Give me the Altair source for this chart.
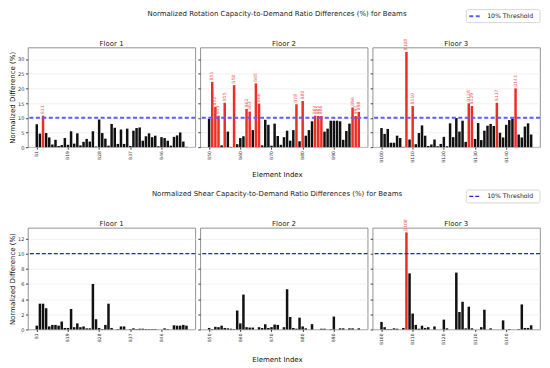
import altair as alt
import pandas as pd

TOP_TITLE = "Normalized Rotation Capacity-to-Demand Ratio Differences (%) for Beams"
BOT_TITLE = "Normalized Shear Capacity-to-Demand Ratio Differences (%) for Beams"
FLOOR_TITLES = ["Floor 1", "Floor 2", "Floor 3"]
Y_TITLE = "Normalized Difference (%)"
X_TITLE = "Element Index"
LEGEND_LABEL = "10% Threshold"
THRESHOLD = 10

floor1_ids = ["B1", "B10", "B11", "B12", "B13", "B14", "B15", "B16", "B17", "B18",
              "B19", "B2", "B20", "B21", "B22", "B23", "B24", "B25", "B26", "B27",
              "B28", "B29", "B3", "B30", "B31", "B32", "B33", "B34", "B35", "B36",
              "B37", "B38", "B39", "B4", "B40", "B41", "B42", "B43", "B44", "B45",
              "B46", "B47", "B48", "B49", "B5", "B6", "B7", "B8", "B9"]
floor2_ids = ["B50", "B51", "B52", "B53", "B54", "B55", "B56", "B57", "B58", "B59",
              "B60", "B61", "B62", "B63", "B64", "B65", "B66", "B67", "B68", "B69",
              "B70", "B71", "B72", "B73", "B74", "B75", "B76", "B77", "B78", "B79",
              "B80", "B81", "B82", "B83", "B84", "B85", "B86", "B87", "B88", "B89",
              "B90", "B91", "B92", "B93", "B94", "B95", "B96", "B97", "B98"]
floor3_ids = ["B100", "B101", "B102", "B103", "B104", "B105", "B106", "B107", "B108", "B109",
              "B110", "B111", "B112", "B113", "B114", "B115", "B116", "B117", "B118", "B119",
              "B120", "B121", "B122", "B123", "B124", "B125", "B126", "B127", "B128", "B129",
              "B130", "B131", "B132", "B133", "B134", "B135", "B136", "B137", "B138", "B139",
              "B140", "B141", "B142", "B143", "B144", "B145", "B146", "B147", "B99"]

rot_f1 = [7.8, 4.6, 10.7, 4.8, 3.3, 0.9, 2.5, 0.4, 0.7, 3.1,
          0.8, 5.4, 1.2, 4.7, 0.6, 1.8, 2.8, 1.9, 5.4, 0.2,
          9.4, 4.8, 2.9, 0.5, 7.9, 6.6, 1.1, 6.0, 1.1, 6.3,
          0.4, 5.6, 6.5, 6.7, 2.2, 3.7, 4.7, 3.4, 3.9, 0.3,
          3.4, 3.1, 2.2, 0.5, 3.5, 4.0, 5.0, 1.9, 0.1]
rot_f2 = [9.6, 22.2, 13.7, 10.7, 0.6, 15.1, 5.3, 0.1, 21.1, 1.0,
          3.1, 3.7, 13.0, 12.1, 5.8, 21.7, 14.8, 0.6, 9.3, 7.6,
          0.5, 8.0, 3.8, 0.8, 3.4, 5.6, 2.2, 5.8, 14.6, 2.0,
          15.7, 3.9, 5.8, 8.8, 10.7, 10.6, 10.6, 5.3, 6.3, 9.0,
          9.0, 9.0, 8.8, 2.5, 5.5, 8.0, 13.5, 10.6, 12.0]
rot_f3 = [6.5, 4.5, 6.2, 1.5, 1.5, 3.9, 3.1, 0.1, 32.4, 2.6,
          14.0, 1.0, 4.8, 7.4, 3.9, 0.4, 0.9, 2.6, 0.3, 1.1,
          3.5, 0.3, 8.1, 3.4, 9.9, 5.3, 9.0, 1.8, 14.9, 14.0,
          2.8, 8.2, 2.4, 5.6, 7.3, 7.9, 7.2, 15.1, 4.9, 3.3,
          7.6, 9.2, 9.7, 20.0, 4.3, 3.3, 7.0, 8.1, 4.3]

shear_f1 = [0.5, 3.4, 3.4, 2.8, 0.4, 0.6, 0.6, 0.5, 1.05, 0.2,
            0.2, 2.7, 0.3, 0.8, 0.3, 0.4, 0.15, 0.15, 6.0, 1.35,
            0.2, 0.05, 0.6, 3.4, 0.2, 0.0, 0.05, 0.4, 0.4, 0.0,
            0.05, 0.15, 0.05, 0.1, 0.1, 0.05, 0.05, 0.05, 0.05, 0.0,
            0.0, 0.15, 0.05, 0.0, 0.55, 0.5, 0.5, 0.6, 0.5]
shear_f2 = [0.2, 0.05, 0.35, 0.3, 0.5, 0.2, 0.15, 0.1, 0.05, 2.5,
            0.8, 4.6, 0.3, 0.25, 0.25, 0.0, 0.3, 0.2, 0.7, 0.2,
            0.3, 0.65, 0.6, 0.0, 0.3, 5.3, 1.65, 0.2, 0.1, 1.55,
            0.4, 0.15, 0.0, 0.7, 0.0, 0.0, 0.1, 0.1, 0.0, 0.05,
            1.7, 0.0, 0.15, 0.15, 0.0, 0.15, 0.15, 0.0, 0.15]
shear_f3 = [1.0, 0.3, 0.05, 0.05, 0.15, 0.1, 0.0, 0.2, 12.8, 7.4,
            2.1, 0.6, 0.1, 0.5, 0.2, 0.3, 0.0, 0.4, 0.0, 0.0,
            1.3, 0.15, 0.0, 0.0, 7.5, 2.3, 3.65, 0.15, 3.0, 0.15,
            0.0, 0.0, 0.3, 2.6, 0.0, 0.15, 0.0, 0.0, 0.0, 1.2,
            0.0, 0.05, 0.0, 0.0, 0.05, 3.3, 0.2, 0.2, 0.55]

TICK_IDX = [0, 10, 20, 30, 40]
TOP_YTICKS = [0, 5, 10, 15, 20, 25, 30]
BOT_YTICKS = [0, 2, 4, 6, 8, 10, 12]
TOP_YMAX = 33.9
BOT_YMAX = 13.4

W = 168
H_TOP = 100
H_BOT = 102
FONT = "DejaVu Sans"
RED = "#ee2d24"
LABEL_RED = "#ef5555"

TOP_LINE = dict(color="#5c5cff", strokeWidth=2, strokeDash=[4, 2.5])
BOT_LINE = dict(color="#1f2bd6", strokeWidth=1.2, strokeDash=[4, 2])


def panel(ids, vals, ymax, yticks, col, row_title, line, xtitle_y, H):
    df = pd.DataFrame({"idx": list(range(len(ids))), "elem": ids, "val": vals})
    n = len(ids)
    xscale = alt.Scale(domain=[-0.4 - 0.05 * (n - 0.2), n - 0.6 + 0.05 * (n - 0.2)],
                       nice=False, zero=False)
    yscale = alt.Scale(domain=[0, ymax], nice=False)
    expr = " : ".join(f"datum.value == {i} ? '{ids[i]}'" for i in TICK_IDX) + " : ''"
    xaxis = alt.Axis(values=TICK_IDX, labelExpr=expr, labelAngle=270, labelFontSize=4.5,
                     labelPadding=1.5, tickSize=2, grid=False, domain=False,
                     title=X_TITLE if col == 1 else None,
                     titleX=W / 2 - 7, titleY=xtitle_y, titleAlign="center",
                     titleBaseline="middle", titleFontSize=7)
    yaxis = alt.Axis(values=yticks, labels=(col == 0), labelFontSize=5, labelPadding=1.5,
                     tickSize=2.5, grid=True, gridColor="#e6e6e6", gridWidth=0.6,
                     domain=False, title=Y_TITLE if col == 0 else None,
                     titleX=-15, titleY=H / 2, titleAlign="center",
                     titleBaseline="middle", titleFontSize=7)
    base = alt.Chart(df).transform_calculate(x0="datum.idx - 0.4", x1="datum.idx + 0.4")
    bars = base.mark_bar().encode(
        x=alt.X("x0:Q", scale=xscale, axis=xaxis),
        x2="x1:Q",
        y=alt.Y("val:Q", scale=yscale, axis=yaxis),
        y2=alt.datum(0),
        color=alt.condition(alt.datum.val > THRESHOLD, alt.value(RED), alt.value("#111111")),
    )
    labels = base.transform_filter(alt.datum.val > THRESHOLD).mark_text(
        angle=270, align="left", baseline="middle", dx=1.5, fontSize=4.5,
        color=LABEL_RED, font=FONT,
    ).encode(
        x=alt.X("idx:Q", scale=xscale, axis=xaxis),
        y=alt.Y("val:Q", scale=yscale, axis=yaxis),
        text="elem:N",
    )
    rule = alt.Chart(pd.DataFrame({"t": [THRESHOLD]})).mark_rule(**line).encode(
        y=alt.Y("t:Q", scale=yscale, axis=yaxis)
    )
    floor_title = alt.Chart(pd.DataFrame({"s": [FLOOR_TITLES[col]]})).mark_text(
        fontSize=7, font=FONT, color="#222222", baseline="alphabetic"
    ).encode(x=alt.value(W / 2), y=alt.value(-2), text="s:N")
    layers = [bars, rule, labels, floor_title]
    if col == 1:
        layers.append(
            alt.Chart(pd.DataFrame({"s": [row_title]})).mark_text(
                fontSize=7, font=FONT, color="#222222"
            ).encode(x=alt.value(W / 2 - 7), y=alt.value(-34), text="s:N")
        )
    if col == 2:
        one = pd.DataFrame({"s": [LEGEND_LABEL]})
        layers.append(
            alt.Chart(one).mark_rect(fill="white", stroke="#cccccc", strokeWidth=0.8,
                                     cornerRadius=2).encode(
                x=alt.value(94), x2=alt.value(W), y=alt.value(-38), y2=alt.value(-25))
        )
        layers.append(
            alt.Chart(one).mark_rule(**line).encode(
                x=alt.value(97), x2=alt.value(109), y=alt.value(-31.5))
        )
        layers.append(
            alt.Chart(one).mark_text(align="left", baseline="middle", fontSize=6.2,
                                     font=FONT, color="#222222").encode(
                x=alt.value(115), y=alt.value(-31.5), text="s:N")
        )
    return alt.layer(*layers).properties(width=W, height=H)


ids_all = [floor1_ids, floor2_ids, floor3_ids]
rot_all = [rot_f1, rot_f2, rot_f3]
shear_all = [shear_f1, shear_f2, shear_f3]

panels = []
for c in range(3):
    panels.append(panel(ids_all[c], rot_all[c], TOP_YMAX, TOP_YTICKS, c, TOP_TITLE,
                        TOP_LINE, 27, H_TOP))
for c in range(3):
    panels.append(panel(ids_all[c], shear_all[c], BOT_YMAX, BOT_YTICKS, c, BOT_TITLE,
                        BOT_LINE, 30, H_BOT))

chart = alt.concat(
    *panels, columns=3, spacing={"row": 81, "column": 5}, bounds="flush"
).properties(padding=0).configure(font=FONT).configure_view(
    stroke="#777777", strokeWidth=0.8
).configure_axis(
    labelColor="#333333", tickColor="#444444", titleColor="#111111",
    titleFontWeight="normal", labelFont=FONT, titleFont=FONT
)

chart.save("out.html", embed_options={"renderer": "svg", "actions": False})
